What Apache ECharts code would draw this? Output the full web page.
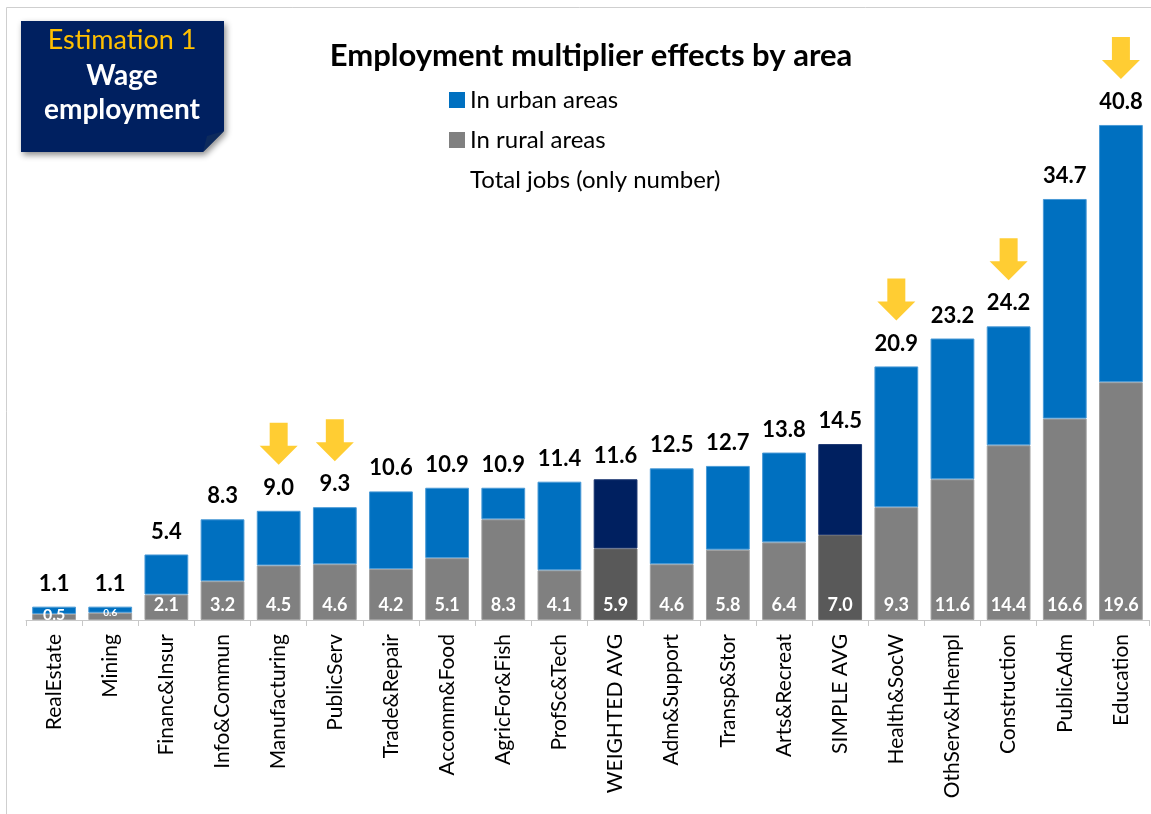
<!DOCTYPE html>
<html>
<head>
<meta charset="utf-8">
<script src="https://cdn.jsdelivr.net/npm/echarts@6/dist/echarts.min.js"></script>
<style>
  html, body { margin: 0; padding: 0; background: #ffffff; }
  #chart { width: 1151px; height: 814px; }
</style>
</head>
<body>
<div id="chart"></div>
<script>
// Sectors, sorted by total jobs created
var categories = ['RealEstate', 'Mining', 'Financ&Insur', 'Info&Commun', 'Manufacturing', 'PublicServ',
  'Trade&Repair', 'Accomm&Food', 'AgricFor&Fish', 'ProfSc&Tech', 'WEIGHTED AVG', 'Adm&Support',
  'Transp&Stor', 'Arts&Recreat', 'SIMPLE AVG', 'Health&SocW', 'OthServ&Hhempl', 'Construction',
  'PublicAdm', 'Education'];

// Total jobs per sector
var totalJobs = [1.1, 1.1, 5.4, 8.3, 9.0, 9.3, 10.6, 10.9, 10.9, 11.4, 11.6, 12.5, 12.7, 13.8, 14.5,
  20.9, 23.2, 24.2, 34.7, 40.8];

// Jobs in rural areas
var ruralJobs = [0.5, 0.6, 2.1, 3.2, 4.5, 4.6, 4.2, 5.1, 8.3, 4.1, 5.9, 4.6, 5.8, 6.4, 7.0,
  9.3, 11.6, 14.4, 16.6, 19.6];

// Average bars drawn in darker shades
var averageRows = ['WEIGHTED AVG', 'SIMPLE AVG'];

// Sectors marked with an arrow
var arrowRows = ['Manufacturing', 'PublicServ', 'Health&SocW', 'Construction', 'Education'];

var FONT = 'Lato, "Open Sans", sans-serif';
var BLUE = '#0070C0', NAVY = '#002060', GREY = '#808080', DARKGREY = '#595959', GOLD = '#FFC000';

// Urban part = total minus rural
var urbanJobs = totalJobs.map(function (t, i) { return Math.round((t - ruralJobs[i]) * 10) / 10; });

function isAvg(i) { return averageRows.indexOf(categories[i]) >= 0; }

var ruralData = ruralJobs.map(function (v, i) {
  var small = v < 1;
  return {
    value: v,
    itemStyle: { color: isAvg(i) ? DARKGREY : GREY, borderColor: isAvg(i) ? '#6e6e6e' : '#a0a0a0' },
    label: small ? { fontSize: i === 1 ? 10 : 16, distance: i === 1 ? 2 : -3 } : {}
  };
});

var urbanData = urbanJobs.map(function (v, i) {
  return {
    value: v,
    itemStyle: { color: isAvg(i) ? NAVY : BLUE, borderColor: isAvg(i) ? '#1a3570' : '#4a9ad6' }
  };
});

var arrowData = totalJobs.map(function (t, i) {
  return arrowRows.indexOf(categories[i]) >= 0 ? t : '-';
});

var chart = echarts.init(document.getElementById('chart'), null, { renderer: 'canvas' });

var option = {
  backgroundColor: '#ffffff',
  animation: false,
  title: {
    text: 'Employment multiplier effects by area',
    left: 586,
    top: 35,
    textAlign: 'center',
    textStyle: { fontFamily: FONT, fontWeight: 'bold', fontSize: 31, color: '#000000' }
  },
  legend: {
    data: ['In urban areas', 'In rural areas', 'Total jobs (only number)'],
    orient: 'vertical',
    left: 449,
    top: 88,
    padding: 0,
    itemWidth: 16,
    itemHeight: 16,
    itemGap: 16,
    icon: 'rect',
    selectedMode: false,
    textStyle: { fontFamily: FONT, fontSize: 24, lineHeight: 24, color: '#000000' }
  },
  grid: { left: 26, right: 2, top: 74, bottom: 194 },
  xAxis: {
    type: 'category',
    data: categories,
    axisLine: { lineStyle: { color: '#c8c8c8', width: 1 } },
    axisTick: { show: true, length: 6, lineStyle: { color: '#c8c8c8' } },
    axisLabel: {
      rotate: 90,
      interval: 0,
      margin: 14,
      fontFamily: FONT,
      fontSize: 21,
      color: '#000000'
    }
  },
  yAxis: {
    type: 'value',
    min: 0,
    max: 45,
    show: false,
    splitLine: { show: false }
  },
  series: [
    {
      name: 'In rural areas',
      type: 'bar',
      stack: 'jobs',
      barWidth: '78%',
      barGap: '-100%',
      itemStyle: { color: GREY, borderWidth: 1 },
      label: {
        show: true,
        position: 'insideBottom',
        distance: 6,
        color: '#ffffff',
        fontFamily: FONT,
        fontWeight: 'bold',
        fontSize: 18,
        formatter: function (p) { return p.value.toFixed(1); }
      },
      data: ruralData
    },
    {
      name: 'In urban areas',
      type: 'bar',
      stack: 'jobs',
      barWidth: '78%',
      barGap: '-100%',
      itemStyle: { color: BLUE, borderWidth: 1 },
      data: urbanData
    },
    {
      name: 'Total jobs (only number)',
      type: 'bar',
      barWidth: '78%',
      barGap: '-100%',
      z: 1,
      itemStyle: { color: 'rgba(0,0,0,0)', borderWidth: 0 },
      emphasis: { disabled: true },
      label: {
        show: true,
        position: 'top',
        distance: 12,
        color: '#000000',
        fontFamily: FONT,
        fontWeight: 'bold',
        fontSize: 22,
        formatter: function (p) { return p.value.toFixed(1); }
      },
      data: totalJobs
    },
    {
      name: 'arrows',
      type: 'scatter',
      symbol: 'path://M10,0 L28,0 L28,23 L38,23 L19,42 L0,23 L10,23 Z',
      symbolSize: [38, 42],
      symbolOffset: [0, -67],
      itemStyle: { color: GOLD },
      z: 5,
      data: arrowData
    }
  ],
  graphic: [
    {
      type: 'rect',
      silent: true,
      shape: { x: 6.5, y: 7.5, width: 1160, height: 820 },
      style: { fill: 'none', stroke: '#cfcfcf', lineWidth: 1 }
    },
    {
      type: 'polygon',
      silent: true,
      shape: { points: [[21, 21], [224, 21], [224, 131], [203, 152], [21, 152]] },
      style: {
        fill: NAVY,
        shadowBlur: 6,
        shadowOffsetX: 2,
        shadowOffsetY: 3,
        shadowColor: 'rgba(0,0,0,0.45)'
      }
    },
    {
      type: 'polygon',
      silent: true,
      shape: { points: [[203, 152], [224, 131], [207, 136]] },
      style: { fill: '#0d2a5c' }
    },
    {
      type: 'text',
      silent: true,
      style: {
        x: 122, y: 40, text: 'Estimation 1', textAlign: 'center', textVerticalAlign: 'middle',
        fill: GOLD, font: 'normal 27px ' + FONT
      }
    },
    {
      type: 'text',
      silent: true,
      style: {
        x: 122, y: 76, text: 'Wage', textAlign: 'center', textVerticalAlign: 'middle',
        fill: '#ffffff', font: 'bold 28px ' + FONT
      }
    },
    {
      type: 'text',
      silent: true,
      style: {
        x: 122, y: 110, text: 'employment', textAlign: 'center', textVerticalAlign: 'middle',
        fill: '#ffffff', font: 'bold 28px ' + FONT
      }
    }
  ]
};

chart.setOption(option);
</script>
</body>
</html>
